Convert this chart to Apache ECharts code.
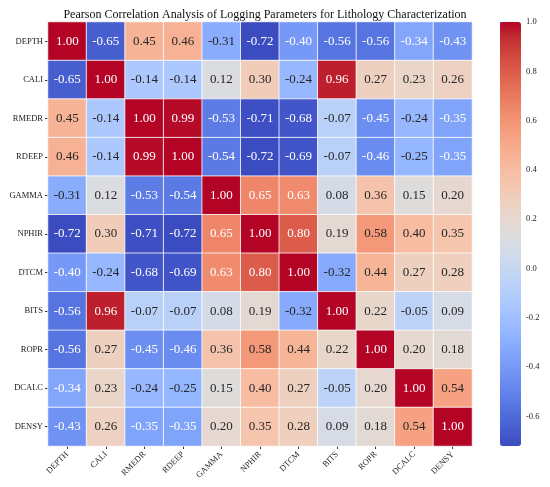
<!DOCTYPE html>
<html lang="en">
<head>
  <meta charset="UTF-8">
  <title>Pearson Correlation</title>
  <style>
    html, body { margin: 0; padding: 0; background: #fff; }
    #chart { width: 550px; height: 487px; }
  </style>
</head>
<body>
  <div id="chart"></div>
  <script src="https://cdn.jsdelivr.net/npm/echarts@6/dist/echarts.min.js"></script>
  <script>
// 变量名称（行和列相同）
const params = ['DEPTH', 'CALI', 'RMEDR', 'RDEEP', 'GAMMA', 'NPHIR', 'DTCM', 'BITS', 'ROPR', 'DCALC', 'DENSY'];

// 相关系数矩阵，每行一个变量
const rowDEPTH = [1.00, -0.65, 0.45, 0.46, -0.31, -0.72, -0.40, -0.56, -0.56, -0.34, -0.43];
const rowCALI  = [-0.65, 1.00, -0.14, -0.14, 0.12, 0.30, -0.24, 0.96, 0.27, 0.23, 0.26];
const rowRMEDR = [0.45, -0.14, 1.00, 0.99, -0.53, -0.71, -0.68, -0.07, -0.45, -0.24, -0.35];
const rowRDEEP = [0.46, -0.14, 0.99, 1.00, -0.54, -0.72, -0.69, -0.07, -0.46, -0.25, -0.35];
const rowGAMMA = [-0.31, 0.12, -0.53, -0.54, 1.00, 0.65, 0.63, 0.08, 0.36, 0.15, 0.20];
const rowNPHIR = [-0.72, 0.30, -0.71, -0.72, 0.65, 1.00, 0.80, 0.19, 0.58, 0.40, 0.35];
const rowDTCM  = [-0.40, -0.24, -0.68, -0.69, 0.63, 0.80, 1.00, -0.32, 0.44, 0.27, 0.28];
const rowBITS  = [-0.56, 0.96, -0.07, -0.07, 0.08, 0.19, -0.32, 1.00, 0.22, -0.05, 0.09];
const rowROPR  = [-0.56, 0.27, -0.45, -0.46, 0.36, 0.58, 0.44, 0.22, 1.00, 0.20, 0.18];
const rowDCALC = [-0.34, 0.23, -0.24, -0.25, 0.15, 0.40, 0.27, -0.05, 0.20, 1.00, 0.54];
const rowDENSY = [-0.43, 0.26, -0.35, -0.35, 0.20, 0.35, 0.28, 0.09, 0.18, 0.54, 1.00];

// 色条刻度
const barTicks = [-0.6, -0.4, -0.2, 0.0, 0.2, 0.4, 0.6, 0.8, 1.0];

const matrix = [rowDEPTH, rowCALI, rowRMEDR, rowRDEEP, rowGAMMA, rowNPHIR,
                rowDTCM, rowBITS, rowROPR, rowDCALC, rowDENSY];

// coolwarm 色带（Moreland 表，33 个点）
const coolwarm = [
  '#3b4cc0', '#445acc', '#4d68d7', '#5775e1', '#6282ea', '#6c8ef1', '#779af7', '#82a5fb',
  '#8db0fe', '#98b9ff', '#a3c2ff', '#aec9fd', '#b8d0f9', '#c2d5f4', '#ccd9ee', '#d5dbe6',
  '#dddddd', '#e5d8d1', '#ecd3c5', '#f1ccb8', '#f5c4ac', '#f7bb9f', '#f7b193', '#f7a686',
  '#f49a7b', '#f18d6f', '#ec7f63', '#e57058', '#de604d', '#d55042', '#cb3e38', '#c0282f',
  '#b40426'
];

const vmin = Math.min(...matrix.flat());
const vmax = 1.0;

function hexToRgb(h) {
  return [parseInt(h.slice(1, 3), 16), parseInt(h.slice(3, 5), 16), parseInt(h.slice(5, 7), 16)];
}
// 根据格子颜色亮度决定文字颜色（和 seaborn 一样）
function textColor(v) {
  let t = (v - vmin) / (vmax - vmin) * (coolwarm.length - 1);
  let i = Math.min(Math.floor(t), coolwarm.length - 2);
  let f = t - i;
  let a = hexToRgb(coolwarm[i]), b = hexToRgb(coolwarm[i + 1]);
  let rgb = a.map((c, k) => (c + (b[k] - c) * f) / 255);
  let lin = rgb.map(c => c <= 0.03928 ? c / 12.92 : Math.pow((c + 0.055) / 1.055, 2.4));
  let lum = 0.2126 * lin[0] + 0.7152 * lin[1] + 0.0722 * lin[2];
  return lum > 0.408 ? '#262626' : '#ffffff';
}

const data = [];
matrix.forEach((row, y) => {
  row.forEach((v, x) => {
    data.push({ value: [x, y, v], label: { color: textColor(v) } });
  });
});

const serif = '"Liberation Serif", "Times New Roman", serif';

const chart = echarts.init(document.getElementById('chart'));
chart.setOption({
  animation: false,
  title: {
    text: 'Pearson Correlation Analysis of Logging Parameters for Lithology Characterization',
    left: 260,
    textAlign: 'center',
    top: 4,
    textStyle: { fontFamily: serif, fontSize: 12, fontWeight: 'normal', color: '#111' }
  },
  grid: [
    { left: 48, top: 22, width: 424, height: 424 },
    { left: 500, top: 22, width: 21, height: 424 }
  ],
  xAxis: [
    {
      type: 'category', data: params, gridIndex: 0,
      axisLine: { show: false },
      axisTick: { show: true, alignWithLabel: true, length: 3, lineStyle: { color: '#333' } },
      axisLabel: { rotate: 45, fontFamily: serif, fontSize: 8.5, color: '#222', margin: 7, interval: 0 },
      splitLine: { show: false }
    },
    { type: 'value', gridIndex: 1, show: false }
  ],
  yAxis: [
    {
      type: 'category', data: params, gridIndex: 0, inverse: true,
      axisLine: { show: false },
      axisTick: { show: true, alignWithLabel: true, length: 3, lineStyle: { color: '#333' } },
      axisLabel: { fontFamily: serif, fontSize: 8.5, color: '#222', margin: 5, interval: 0 },
      splitLine: { show: false }
    },
    {
      type: 'value', gridIndex: 1, position: 'right', min: vmin, max: vmax,
      axisLine: { show: false },
      axisTick: { show: true, length: 3, lineStyle: { color: '#333' }, customValues: barTicks },
      axisLabel: {
        fontFamily: serif, fontSize: 8.5, color: '#222', margin: 5,
        customValues: barTicks,
        formatter: v => v.toFixed(1)
      },
      splitLine: { show: false }
    }
  ],
  visualMap: {
    type: 'continuous',
    min: vmin, max: vmax,
    seriesIndex: 0,
    calculable: false,
    orient: 'vertical',
    left: 500, top: 22,
    itemWidth: 21, itemHeight: 424,
    padding: 0,
    text: null,
    showLabel: false,
    inRange: { color: coolwarm }
  },
  series: [{
    type: 'heatmap',
    xAxisIndex: 0, yAxisIndex: 0,
    data: data,
    label: {
      show: true,
      fontFamily: serif,
      fontSize: 13,
      formatter: p => p.value[2].toFixed(2)
    },
    itemStyle: { borderColor: '#ffffff', borderWidth: 0.8 },
    emphasis: { disabled: true }
  }]
});
  </script>
</body>
</html>
